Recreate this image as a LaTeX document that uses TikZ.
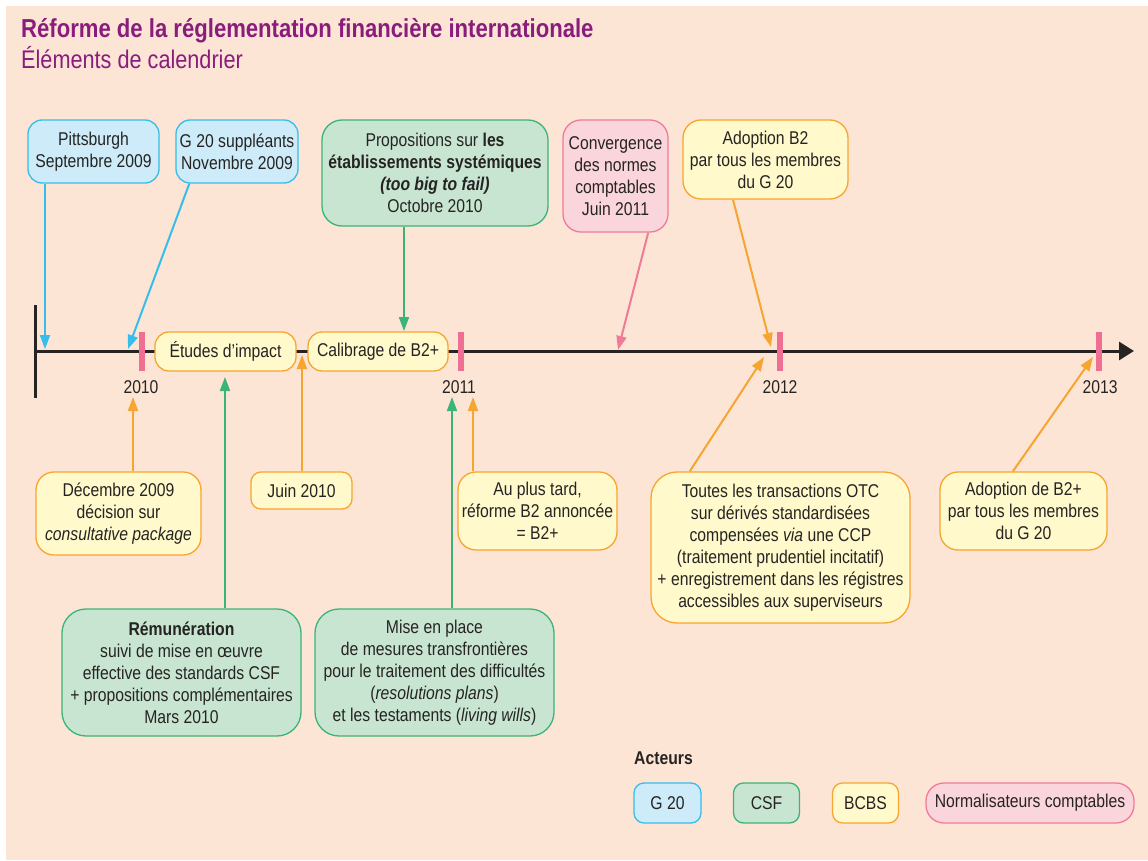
\documentclass[tikz,border=0pt]{standalone}
\usepackage{fontspec}
\setmainfont{Liberation Sans}[FakeStretch=0.85]
\usepackage{tikz}
\usetikzlibrary{arrows.meta}
\definecolor{peach}{HTML}{FDE5D6}
\definecolor{ink}{HTML}{262422}
\definecolor{titre}{HTML}{8A1C7C}
\definecolor{gfill}{HTML}{CDEBF9}
\definecolor{gline}{HTML}{35BDEB}
\definecolor{cfill}{HTML}{C8E5D2}
\definecolor{cline}{HTML}{3AB478}
\definecolor{bfill}{HTML}{FFF9CC}
\definecolor{bline}{HTML}{F6A531}
\definecolor{nfill}{HTML}{FBD5DC}
\definecolor{nline}{HTML}{EF7B98}
\definecolor{tickc}{HTML}{EE6F91}

\begin{document}
\begin{tikzpicture}[x=1pt,y=-1pt,
  every node/.style={font=\fontsize{18.5}{22}\selectfont, text=ink, align=center, inner sep=2pt},
  box/.style={draw, line width=1.3pt, rounded corners=14pt},
  gvingt/.style={box, fill=gfill, draw=gline},
  csf/.style={box, fill=cfill, draw=cline},
  bcbs/.style={box, fill=bfill, draw=bline},
  norm/.style={box, fill=nfill, draw=nline},
  lien/.style={line width=2pt, -{Triangle[length=14pt,width=10pt]}},
  annee/.style={line width=5.5pt, draw=tickc}]
\useasboundingbox (0,0) rectangle (1148,861);
\fill[white] (0,0) rectangle (1148,861);
\fill[peach] (6,6) rectangle (1148,860);

\node[anchor=base west, text=titre, font=\fontsize{26}{30}\selectfont\bfseries] (titre) at (19,38) {Réforme de la réglementation financière internationale};
\node[anchor=base west, text=titre, font=\fontsize{25.5}{30}\selectfont] (soustitre) at (19,69) {Éléments de calendrier};

\draw[line width=3pt, ink, -{Triangle[length=15pt,width=18pt]}] (35,351) -- (1134,351);
\draw[line width=3pt, ink] (35,305) -- (35,398);

\draw[annee] (142,332) -- (142,371);
\draw[annee] (461,332) -- (461,371);
\draw[annee] (780,332) -- (780,371);
\draw[annee] (1099,332) -- (1099,371);
\node (a2010) at (141,387) {2010};
\node (a2011) at (459,387) {2011};
\node (a2012) at (780,387) {2012};
\node (a2013) at (1100,387) {2013};

\node[bcbs, minimum width=141pt, minimum height=39pt] (etud) at (225.5,351.5) {Études d’impact};
\node[bcbs, minimum width=140pt, minimum height=39pt] (cali) at (378,351.5) {Calibrage de B2+};

\node[gvingt, minimum width=131pt, minimum height=63pt] (pitt) at (93.5,151.5) {Pittsburgh\\Septembre 2009};
\node[gvingt, minimum width=122pt, minimum height=63pt] (supp) at (237,151.5) {G 20 suppléants\\Novembre 2009};
\node[csf, minimum width=226pt, minimum height=106pt, rounded corners=20pt] (tbtf) at (435,173) {Propositions sur \textbf{les}\\\textbf{établissements systémiques}\\\textbf{\textit{(too big to fail)}}\\Octobre 2010};
\node[norm, minimum width=105pt, minimum height=112pt, rounded corners=18pt] (conv) at (615.5,176) {Convergence\\des normes\\comptables\\Juin 2011};
\node[bcbs, minimum width=165pt, minimum height=79pt, rounded corners=18pt] (adb2) at (765.5,159.5) {Adoption B2\\par tous les membres\\du G 20};

\node[bcbs, minimum width=165pt, minimum height=83pt, rounded corners=18pt] (dec) at (118.5,513.5) {Décembre 2009\\décision sur\\\textit{consultative package}};
\node[bcbs, minimum width=101pt, minimum height=37pt, rounded corners=10pt] (juin) at (301.5,490.5) {Juin 2010};
\node[csf, minimum width=239pt, minimum height=127pt, rounded corners=24pt] (remu) at (181.5,672.5) {\textbf{Rémunération}\\suivi de mise en œuvre\\effective des standards CSF\\+ propositions complémentaires\\Mars 2010};
\node[bcbs, minimum width=159pt, minimum height=78pt, rounded corners=18pt] (tard) at (537.5,511) {Au plus tard,\\réforme B2 annoncée\\= B2+};
\node[csf, minimum width=239pt, minimum height=127pt, rounded corners=24pt] (mise) at (434.5,672.5) {Mise en place\\de mesures transfrontières\\pour le traitement des difficultés\\(\textit{resolutions plans})\\et les testaments (\textit{living wills})};
\node[bcbs, minimum width=259pt, minimum height=151pt, rounded corners=26pt] (otc) at (780.5,547.5) {Toutes les transactions OTC\\sur dérivés standardisées\\compensées \textit{via} une CCP\\(traitement prudentiel incitatif)\\+ enregistrement dans les régistres\\accessibles aux superviseurs};
\node[bcbs, minimum width=167pt, minimum height=78pt, rounded corners=18pt] (adb2p) at (1023.5,511) {Adoption de B2+\\par tous les membres\\du G 20};

\coordinate (p1) at (45,349);
\coordinate (p2) at (128,349);
\coordinate (p3) at (404,331);
\coordinate (p4) at (618,350);
\coordinate (p5) at (771,347);
\coordinate (p6) at (133,397);
\coordinate (p7) at (302,355);
\coordinate (p8) at (225,377);
\coordinate (p9) at (473,397);
\coordinate (p10) at (452,397);
\coordinate (p11) at (764,357);
\coordinate (p12) at (1093,357);

\draw[lien, gline] (pitt.south -| p1) -- (p1);
\draw[lien, gline] (supp.214) -- (p2);
\draw[lien, cline] (tbtf.south -| p3) -- (p3);
\draw[lien, nline] (conv.300) -- (p4);
\draw[lien, bline] (adb2.231) -- (p5);
\draw[lien, bline] (dec.north -| p6) -- (p6);
\draw[lien, bline] (juin.north -| p7) -- (p7);
\draw[lien, cline] (remu.north -| p8) -- (p8);
\draw[lien, bline] (tard.north -| p9) -- (p9);
\draw[lien, cline] (mise.north -| p10) -- (p10);
\draw[lien, bline] (otc.140) -- (p11);
\draw[lien, bline] (adb2p.105) -- (p12);

\node[anchor=west, font=\fontsize{18.5}{22}\selectfont\bfseries] (acteurs) at (632,758) {Acteurs};
\node[gvingt, minimum width=67pt, minimum height=40pt, rounded corners=10pt] (lg) at (667.5,803) {G 20};
\node[csf, minimum width=66pt, minimum height=40pt, rounded corners=10pt] (lc) at (766.5,803) {CSF};
\node[bcbs, minimum width=66pt, minimum height=40pt, rounded corners=10pt] (lb) at (865.5,803) {BCBS};
\node[norm, minimum width=208pt, minimum height=40pt, rounded corners=18pt] (ln) at (1030,803) {Normalisateurs comptables};
\end{tikzpicture}
\end{document}
